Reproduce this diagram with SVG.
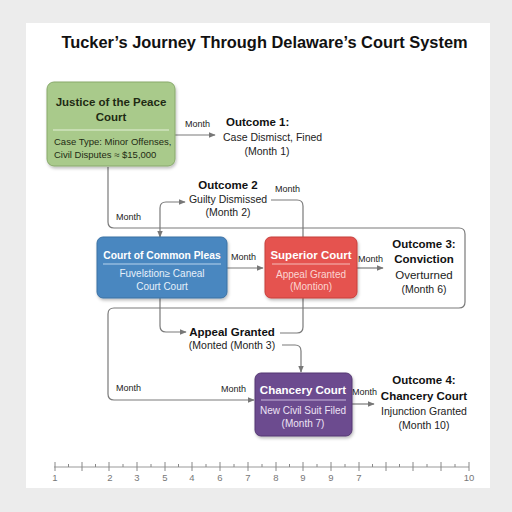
<svg xmlns="http://www.w3.org/2000/svg" width="512" height="512" viewBox="0 0 512 512">
<defs>
<marker id="ah" viewBox="0 0 10 10" refX="9" refY="5" markerWidth="7" markerHeight="7" orient="auto-start-reverse" markerUnits="userSpaceOnUse">
<path d="M0,1 L10,5 L0,9 z" fill="#777"/>
</marker>
<filter id="sh" x="-10%" y="-10%" width="125%" height="130%">
<feDropShadow dx="1" dy="2" stdDeviation="1.5" flood-color="#000" flood-opacity="0.25"/>
</filter>
</defs>
<style>
text{font-family:"Liberation Sans",Arial,sans-serif;}
.conn{fill:none;stroke:#7a7a7a;stroke-width:1.2;}
.lbl{font-size:9px;fill:#222;}
.bt{font-size:11.5px;font-weight:bold;fill:#fff;text-anchor:middle;}
.bs{font-size:10px;text-anchor:middle;}
.ob{font-size:11.5px;font-weight:bold;fill:#111;text-anchor:middle;}
.on{font-size:10.5px;fill:#222;text-anchor:middle;}
.sep{stroke-width:1;}
.tk{stroke:#888;stroke-width:1;}
.tl{font-size:9.5px;fill:#777;text-anchor:middle;}
</style>
<rect width="512" height="512" fill="#ececec"/>
<rect x="26" y="23" width="464" height="465" fill="#fff"/>
<text x="264.5" y="48" font-size="16.4" font-weight="bold" fill="#111" text-anchor="middle">Tucker’s Journey Through Delaware’s Court System</text>

<g id="connectors">
<path class="conn" d="M108,167 V222 Q108,228 114,228 H459 Q465,228 465,234 V302 Q465,308 459,308 H114 Q108,308 108,314 V394 Q108,400 114,400 H254" marker-end="url(#ah)"/>
<path class="conn" d="M175,135 H215" marker-end="url(#ah)"/>
<path class="conn" d="M160,237 V208 Q160,202 166,202 H185" marker-start="url(#ah)" marker-end="url(#ah)"/>
<path class="conn" d="M271,200 H297 Q303,200 303,206 V237"/>
<path class="conn" d="M227,268 H263" marker-end="url(#ah)"/>
<path class="conn" d="M357,268 H383" marker-end="url(#ah)"/>
<path class="conn" d="M160,298 V326 Q160,332 166,332 H186" marker-end="url(#ah)"/>
<path class="conn" d="M280,333 H297 Q303,333 303,327 V298"/>
<path class="conn" d="M282,345 H295 Q301,345 301,351 V372" marker-end="url(#ah)"/>
<path class="conn" d="M352,404 H374" marker-end="url(#ah)"/>
<text class="lbl" x="185" y="127">Month</text>
<text class="lbl" x="275" y="192">Month</text>
<text class="lbl" x="116" y="220">Month</text>
<text class="lbl" x="231" y="260">Month</text>
<text class="lbl" x="358" y="262">Month</text>
<text class="lbl" x="116" y="391">Month</text>
<text class="lbl" x="221" y="392">Month</text>
<text class="lbl" x="352" y="395">Month</text>
</g>

<g id="jp-court">
<rect x="47" y="82" width="128" height="84" rx="7" fill="#a9ca8b" stroke="#88a96b" filter="url(#sh)"/>
<text x="111" y="106" font-size="11.5" font-weight="bold" fill="#1f2a14" text-anchor="middle">Justice of the Peace</text>
<text x="111" y="121" font-size="11.5" font-weight="bold" fill="#1f2a14" text-anchor="middle">Court</text>
<line class="sep" x1="53" y1="130" x2="169" y2="130" stroke="#e4f0d8"/>
<text x="54" y="145" font-size="9.5" fill="#1f2a14">Case Type: Minor Offenses,</text>
<text x="54" y="158" font-size="9.5" fill="#1f2a14">Civil Disputes ≈ $15,000</text>
</g>

<g id="outcome-1">
<text x="226" y="126" font-size="11.5" font-weight="bold" fill="#111">Outcome 1:</text>
<text x="223" y="141" font-size="10.5" fill="#222">Case Dismisct, Fined</text>
<text class="on" x="267" y="155">(Month 1)</text>
</g>

<g id="outcome-2">
<text class="ob" x="228" y="189">Outcome 2</text>
<text class="on" x="228" y="203">Guilty Dismissed</text>
<text class="on" x="228" y="216">(Month 2)</text>
</g>

<g id="common-pleas">
<rect x="97" y="237" width="130" height="61" rx="6" fill="#4a87c0" stroke="#3a70a3" filter="url(#sh)"/>
<text class="bt" x="162" y="259" style="font-size:10.3px">Court of Common Pleas</text>
<line class="sep" x1="103" y1="264" x2="221" y2="264" stroke="#b9d4ee"/>
<text class="bs" x="162" y="277" fill="#e6f0fa">Fuvelɛtion≥ Caneal</text>
<text class="bs" x="162" y="290" fill="#e6f0fa">Court Court</text>
</g>

<g id="superior-court">
<rect x="265" y="237" width="92" height="61" rx="6" fill="#e5524f" stroke="#c63e3b" filter="url(#sh)"/>
<text class="bt" x="311" y="259">Superior Court</text>
<line class="sep" x1="272" y1="264" x2="350" y2="264" stroke="#f6bdb9"/>
<text class="bs" x="311" y="278" fill="#fbd6d2">Appeal Granted</text>
<text class="bs" x="311" y="290" fill="#fbd6d2">(Montion)</text>
</g>

<g id="outcome-3">
<text class="ob" x="424" y="248">Outcome 3:</text>
<text class="ob" x="424" y="263">Conviction</text>
<text class="on" x="424" y="279" style="font-size:11.5px">Overturned</text>
<text class="on" x="424" y="293">(Month 6)</text>
</g>

<g id="appeal-granted">
<text class="ob" x="232" y="336">Appeal Granted</text>
<text class="on" x="232" y="349">(Monted (Month 3)</text>
</g>

<g id="chancery-court">
<rect x="255" y="373" width="97" height="63" rx="6" fill="#6c4b8f" stroke="#553972" filter="url(#sh)"/>
<text class="bt" x="303" y="394">Chancery Court</text>
<line class="sep" x1="261" y1="400" x2="346" y2="400" stroke="#c8b6dc"/>
<text class="bs" x="303" y="414" fill="#ece3f5">New Civil Suit Filed</text>
<text class="bs" x="303" y="427" fill="#ece3f5">(Month 7)</text>
</g>

<g id="outcome-4">
<text class="ob" x="424" y="384">Outcome 4:</text>
<text class="ob" x="424" y="400">Chancery Court</text>
<text class="on" x="424" y="415">Injunction Granted</text>
<text class="on" x="424" y="429">(Month 10)</text>
</g>

<g id="timeline">
<line x1="54" y1="467" x2="469" y2="467" stroke="#999" stroke-width="1"/>
<path class="tk" d="M55,462V471 M82,462V471 M109,462V471 M137,462V471 M165,462V471 M192,462V471 M220,462V471 M248,462V471 M276,462V471 M303,462V471 M331,462V471 M359,462V471 M386,462V471 M413,462V471 M441,462V471 M469,462V471"/>
<path class="tk" d="M68.5,464V467 M95.5,464V467 M123,464V467 M151,464V467 M178.5,464V467 M206,464V467 M234,464V467 M262,464V467 M289.5,464V467 M317,464V467 M345,464V467 M372.5,464V467 M399.5,464V467 M427,464V467 M455,464V467"/>
<text class="tl" x="55" y="481">1</text>
<text class="tl" x="110" y="481">2</text>
<text class="tl" x="137" y="481">3</text>
<text class="tl" x="165" y="481">5</text>
<text class="tl" x="192" y="481">4</text>
<text class="tl" x="220" y="481">6</text>
<text class="tl" x="248" y="481">7</text>
<text class="tl" x="276" y="481">8</text>
<text class="tl" x="303" y="481">9</text>
<text class="tl" x="331" y="481">9</text>
<text class="tl" x="359" y="481">7</text>
<text class="tl" x="469" y="481">10</text>
</g>
</svg>
